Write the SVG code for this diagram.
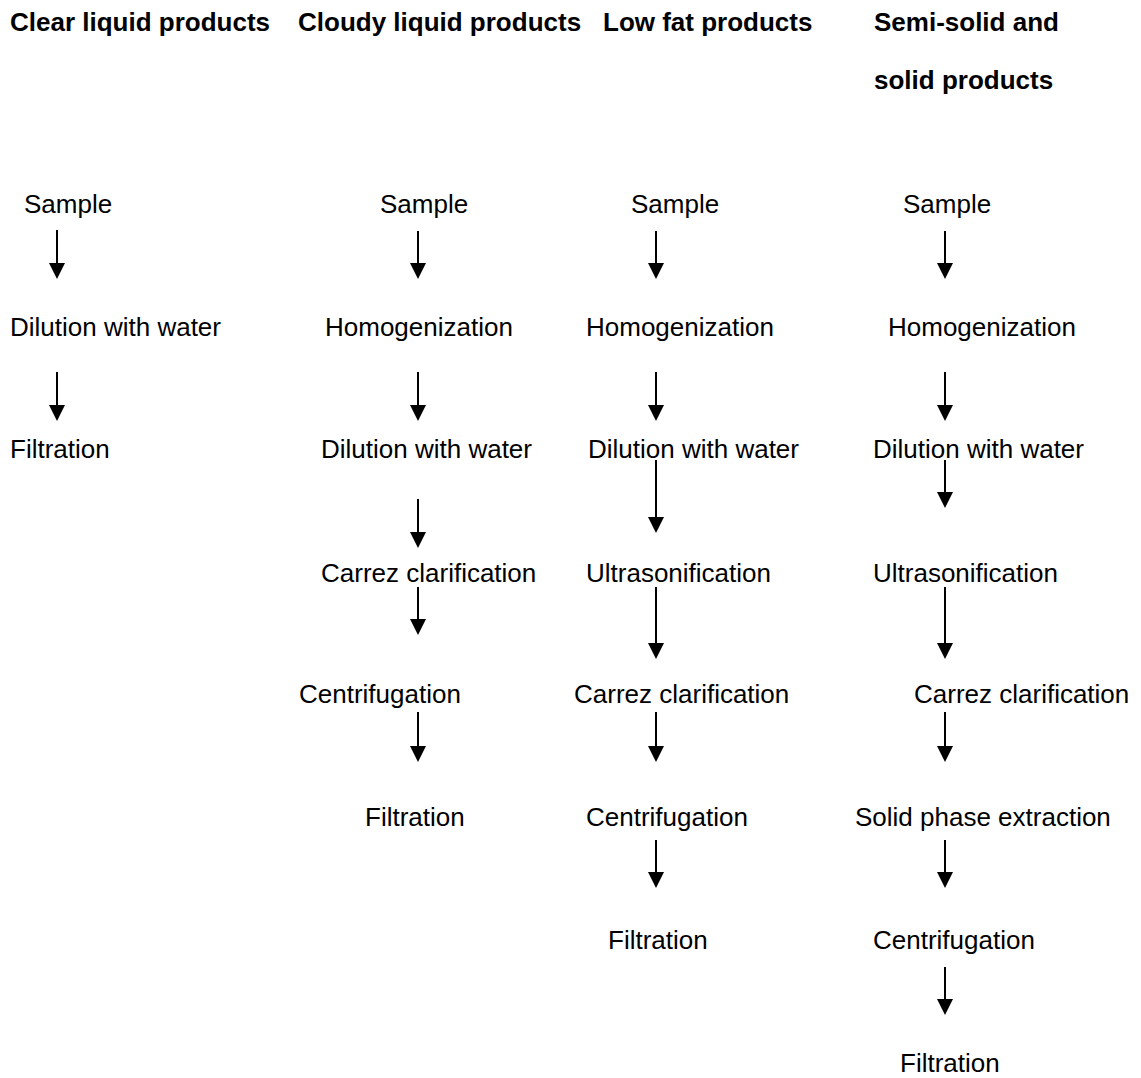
<svg xmlns="http://www.w3.org/2000/svg" width="1141" height="1078" viewBox="0 0 1141 1078">
<style>
text{font-family:"Liberation Sans",Arial,sans-serif;font-size:26px;fill:#000}
.h{font-weight:bold}
.c line{stroke:#000;stroke-width:2;marker-end:url(#ah)}
</style>
<defs>
<marker id="ah" viewBox="0 0 16 16" refX="8" refY="8" markerWidth="16" markerHeight="16" markerUnits="userSpaceOnUse" orient="auto">
<path d="M0,0 L16,8 L0,16 z" fill="#000"/>
</marker>
</defs>
<rect width="1141" height="1078" fill="#fff"/>
<g id="headers">
<text class="h" x="10" y="31">Clear liquid products</text>
<text class="h" x="298" y="31">Cloudy liquid products</text>
<text class="h" x="603" y="31">Low fat products</text>
<text class="h" x="874" y="31">Semi-solid and</text>
<text class="h" x="874" y="89">solid products</text>
</g>
<g id="col1">
<g id="c1-sample"><text x="24" y="213">Sample</text></g>
<g id="c1-dilution"><text x="10" y="336">Dilution with water</text></g>
<g id="c1-filtration"><text x="10" y="458">Filtration</text></g>
</g>
<g id="col2">
<g id="c2-sample"><text x="380" y="213">Sample</text></g>
<g id="c2-homog"><text x="325" y="336">Homogenization</text></g>
<g id="c2-dilution"><text x="321" y="458">Dilution with water</text></g>
<g id="c2-carrez"><text x="321" y="582">Carrez clarification</text></g>
<g id="c2-centri"><text x="299" y="703">Centrifugation</text></g>
<g id="c2-filtration"><text x="365" y="826">Filtration</text></g>
</g>
<g id="col3">
<g id="c3-sample"><text x="631" y="213">Sample</text></g>
<g id="c3-homog"><text x="586" y="336">Homogenization</text></g>
<g id="c3-dilution"><text x="588" y="458">Dilution with water</text></g>
<g id="c3-ultra"><text x="586" y="582">Ultrasonification</text></g>
<g id="c3-carrez"><text x="574" y="703">Carrez clarification</text></g>
<g id="c3-centri"><text x="586" y="826">Centrifugation</text></g>
<g id="c3-filtration"><text x="608" y="949">Filtration</text></g>
</g>
<g id="col4">
<g id="c4-sample"><text x="903" y="213">Sample</text></g>
<g id="c4-homog"><text x="888" y="336">Homogenization</text></g>
<g id="c4-dilution"><text x="873" y="458">Dilution with water</text></g>
<g id="c4-ultra"><text x="873" y="582">Ultrasonification</text></g>
<g id="c4-carrez"><text x="914" y="703">Carrez clarification</text></g>
<g id="c4-spe"><text x="855" y="826">Solid phase extraction</text></g>
<g id="c4-centri"><text x="873" y="949">Centrifugation</text></g>
<g id="c4-filtration"><text x="900" y="1072">Filtration</text></g>
</g>
<g id="connectors" class="c">
<line x1="57" y1="230" x2="57" y2="271"/>
<line x1="57" y1="372" x2="57" y2="413"/>
<line x1="418" y1="231" x2="418" y2="271"/>
<line x1="418" y1="372" x2="418" y2="413"/>
<line x1="418" y1="499" x2="418" y2="540"/>
<line x1="418" y1="587" x2="418" y2="627"/>
<line x1="418" y1="712" x2="418" y2="754"/>
<line x1="656" y1="231" x2="656" y2="271"/>
<line x1="656" y1="372" x2="656" y2="413"/>
<line x1="656" y1="460" x2="656" y2="525"/>
<line x1="656" y1="587" x2="656" y2="651"/>
<line x1="656" y1="712" x2="656" y2="754"/>
<line x1="656" y1="840" x2="656" y2="880"/>
<line x1="945" y1="231" x2="945" y2="271"/>
<line x1="945" y1="372" x2="945" y2="413"/>
<line x1="945" y1="460" x2="945" y2="500"/>
<line x1="945" y1="587" x2="945" y2="651"/>
<line x1="945" y1="712" x2="945" y2="754"/>
<line x1="945" y1="840" x2="945" y2="880"/>
<line x1="945" y1="967" x2="945" y2="1007"/>
</g>
</svg>
